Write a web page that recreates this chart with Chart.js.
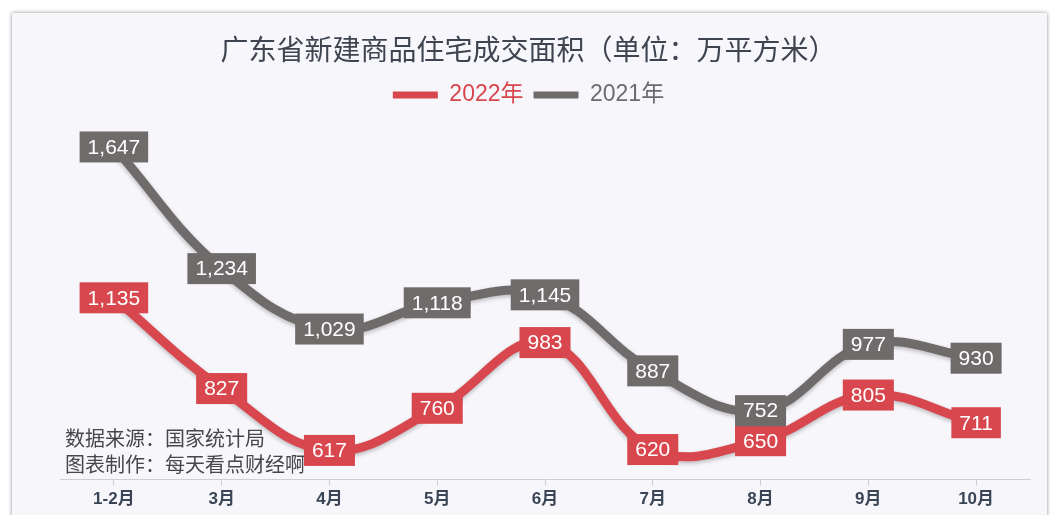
<!DOCTYPE html>
<html>
<head>
<meta charset="utf-8">
<script src="https://cdn.jsdelivr.net/npm/chart.js@4/dist/chart.umd.min.js"></script>
<style>
  html, body { margin: 0; padding: 0; background: #fff; overflow: hidden; }
  #card {
    position: absolute; left: 12px; top: 13px; width: 1035px; height: 560px;
    background: #f7f6fb; box-shadow: 0 0 4px rgba(0,0,0,0.45);
  }
  #wrap { position: absolute; left: 0; top: 0; width: 1062px; height: 515px; }
</style>
</head>
<body>
<div id="card"></div>
<div id="wrap"><canvas id="chart" width="1062" height="515"></canvas></div>
<script>
const months = ['1-2月', '3月', '4月', '5月', '6月', '7月', '8月', '9月', '10月'];
const area2022 = [1135, 827, 617, 760, 983, 620, 650, 805, 711];
const area2021 = [1647, 1234, 1029, 1118, 1145, 887, 752, 977, 930];
const titleText = '广东省新建商品住宅成交面积（单位：万平方米）';
const sourceLines = ['数据来源：国家统计局', '图表制作：每天看点财经啊'];

const RED = '#d7474d';
const GRAY = '#6f6b6b';
const cjk = '"Noto Sans CJK SC", "Liberation Sans", sans-serif';

// 线条阴影
const shadowPlugin = {
    id: 'lineShadow',
    beforeDatasetDraw(chart) {
        const ctx = chart.ctx;
        ctx.save();
        ctx.shadowColor = 'rgba(0,0,0,0.25)';
        ctx.shadowBlur = 4;
        ctx.shadowOffsetY = 2;
    },
    afterDatasetDraw(chart) {
        chart.ctx.restore();
    }
};

// 数据标签（方块 + 白字）
const labelPlugin = {
    id: 'boxLabels',
    afterDatasetsDraw(chart) {
        const ctx = chart.ctx;
        ctx.save();
        ctx.font = '21px "Liberation Sans", Arial, sans-serif';
        ctx.textAlign = 'center';
        ctx.textBaseline = 'middle';
        chart.data.datasets.forEach((ds, i) => {
            const meta = chart.getDatasetMeta(i);
            meta.data.forEach((pt, j) => {
                const txt = ds.data[j].toLocaleString('en-US');
                const w = ctx.measureText(txt).width + 16;
                const h = 31;
                ctx.fillStyle = ds.borderColor;
                ctx.fillRect(pt.x - w / 2, pt.y - h / 2, w, h);
                ctx.fillStyle = '#fff';
                ctx.fillText(txt, pt.x, pt.y + 1);
            });
        });
        ctx.restore();
    }
};

// 数据来源文字
const sourcePlugin = {
    id: 'sourceText',
    afterDraw(chart) {
        const ctx = chart.ctx;
        ctx.save();
        ctx.font = '20px ' + cjk;
        ctx.fillStyle = '#474747';
        ctx.textBaseline = 'middle';
        sourceLines.forEach((t, i) => ctx.fillText(t, 65, 438 + i * 26));
        ctx.restore();
    }
};

const ctx = document.getElementById('chart').getContext('2d');
new Chart(ctx, {
    type: 'line',
    data: {
        labels: months,
        datasets: [
            { label: '2022年', data: area2022, borderColor: RED, backgroundColor: RED },
            { label: '2021年', data: area2021, borderColor: GRAY, backgroundColor: GRAY }
        ]
    },
    options: {
        responsive: false,
        animation: false,
        layout: { padding: { left: 0, right: 5, top: 0, bottom: 1 } },
        elements: {
            line: { borderWidth: 9, tension: 0.4, capBezierPoints: true },
            point: { radius: 0, hoverRadius: 0 }
        },
        plugins: {
            tooltip: { enabled: false },
            title: {
                display: true,
                text: titleText,
                color: '#3f4550',
                font: { size: 28, family: cjk, weight: 'normal' },
                padding: { top: 33, bottom: 7 }
            },
            legend: {
                display: true,
                labels: {
                    boxWidth: 45,
                    boxHeight: 7,
                    padding: 10,
                    font: { size: 23, family: '"Liberation Sans", ' + cjk },
                    generateLabels(chart) {
                        return chart.data.datasets.map((ds, i) => ({
                            text: ds.label,
                            fillStyle: ds.borderColor,
                            strokeStyle: ds.borderColor,
                            fontColor: ds.borderColor,
                            lineWidth: 0,
                            hidden: false,
                            datasetIndex: i
                        }));
                    }
                }
            }
        },
        scales: {
            x: {
                offset: true,
                grid: { display: true, drawOnChartArea: false, drawTicks: true, tickLength: 6, color: '#cfcfcf' },
                border: { display: true, color: '#cfcfcf' },
                ticks: {
                    color: '#3a4556',
                    padding: 4,
                    font: { size: 17, weight: 'bold', family: '"Liberation Sans", ' + cjk }
                }
            },
            y: {
                display: true,
                min: 518,
                max: 1750,
                grid: { display: false },
                border: { display: false },
                ticks: { display: false },
                afterFit(scale) { scale.width = 60; }
            },
            y2: {
                display: true,
                position: 'right',
                grid: { display: false },
                border: { display: false },
                ticks: { display: false },
                afterFit(scale) { scale.width = 27; }
            }
        }
    },
    plugins: [shadowPlugin, labelPlugin, sourcePlugin]
});
</script>
</body>
</html>
